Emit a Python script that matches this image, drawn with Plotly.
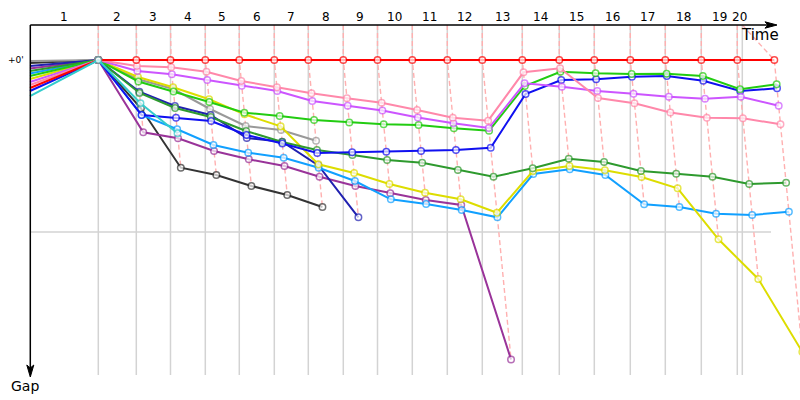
import plotly.graph_objects as go

# ---------------- data ----------------
laps = list(range(1, 21))
lap_labels = [str(i) for i in laps]

# leader cumulative race time (s) at end of each lap
leader_times = [248.2, 386.3, 510.5, 637.0, 760.5, 887.7, 1011.3, 1138.4, 1262.7, 1389.2,
                1516.4, 1643.5, 1788.9, 1923.3, 2050.5, 2181.3, 2308.5, 2439.3, 2570.1, 2704.6]
# reference time marks (vertical grid) for each lap
lap_marks = [248.2, 386.3, 510.5, 637.0, 760.5, 887.7, 1011.3, 1138.4, 1262.7, 1389.2,
             1516.4, 1643.5, 1788.9, 1923.3, 2050.5, 2181.3, 2308.5, 2439.3, 2570.1, 2588.3]

# gap to leader (s) at the end of each lap; first value = start offset
gap_red = [9.77, 0, 0, 0, 0, 0, 0, 0, 0, 0, 0, 0, 0, 0, 0, 0, 0, 0, 0, 0, 0]
gap_pink = [8.72, 0, 2.09, 2.55, 4.08, 7.33, 9.52, 11.62, 13.36, 14.9, 17.44, 20.13, 21.17,
            4.29, 2.9, 13.26, 15.1, 18.31, 20.13, 20.34, 22.43]
gap_violet = [7.67, 0, 3.84, 4.99, 6.98, 8.96, 10.81, 14.3, 15.94, 17.62, 20.06, 22.08, 23.72,
              8.13, 9.31, 10.81, 11.76, 12.8, 13.5, 12.8, 15.94]
gap_green = [5.58, 0, 7.5, 10.99, 14.65, 18.38, 19.53, 20.93, 21.8, 22.43, 22.67, 23.83, 24.66,
             9.07, 4.08, 4.64, 4.88, 4.78, 5.58, 10.22, 8.48]
gap_blue = [10.81, 0, 19.19, 20.13, 21.28, 26.16, 29.13, 32.44, 32.2, 31.99, 31.74, 31.4, 30.59,
            11.86, 6.98, 6.73, 5.83, 5.58, 7.22, 10.81, 9.87]
gap_darkgreen = [3.84, 0, 11.51, 16.74, 19.88, 24.77, 28.6, 31.4, 33.14, 34.88, 35.82, 38.37, 40.71,
                 37.78, 34.43, 35.58, 38.72, 39.66, 40.71, 43.26, 42.8]
gap_yellow = [6.63, 0, 5.93, 9.52, 13.71, 18.94, 23.13, 36.38, 39.42, 43.26, 46.29, 48.59, 53.27,
              38.72, 36.98, 38.48, 40.81, 44.75, 62.54, 76.39, 101.86]
gap_lightblue = [4.71, 0, 19.19, 24.17, 29.65, 32.34, 34.08, 37.57, 42.21, 48.59, 50.23, 52.33, 54.87,
                 39.77, 38.13, 40.12, 50.34, 51.28, 53.62, 54.07, 52.92]
gap_gray = [0.35, 0, 6.73, 10.12, 17.09, 23.02, 24.42, 28.15]
gap_purple = [2.97, 0, 25.22, 27.31, 31.74, 34.64, 36.98, 40.71, 43.95, 46.5, 48.84, 50.58, 104.47]
gap_black = [1.05, 0, 16.85, 37.57, 40.12, 43.95, 47.09, 51.28]
gap_navy = [2.09, 0, 11.06, 16.05, 19.19, 27.21, 28.5, 36.8, 54.87]
gap_teal = [12.56, 0, 15.1, 25.57]

drivers = ["Black", "Gray", "Purple", "Navy", "Light blue", "Yellow", "Dark green",
           "Blue", "Green", "Violet", "Pink", "Red", "Teal"]
driver_gaps = [gap_black, gap_gray, gap_purple, gap_navy, gap_lightblue, gap_yellow,
               gap_darkgreen, gap_blue, gap_green, gap_violet, gap_pink, gap_red, gap_teal]
driver_colors = ["#333333", "#999999", "#993399", "#2020b0", "#11a0ff", "#dddd00",
                 "#2e9a2e", "#1010f0", "#22cc11", "#cc55ff", "#ff88aa", "#ff0000", "#33cccc"]

# ---------------- pixel scale helpers (layout only) ----------------
W, H = 800, 400
X0_PX, Y0_PX = 30.0, 60.0        # time 0 / gap 0 positions
KX, KY = 0.2752, 2.8667          # px per second on each axis
def tx(px):
    return (px - X0_PX) / KX
def gy(py):
    return (py - Y0_PX) / KY

top_g = gy(25)
bottom_g = gy(375)

fig = go.Figure()

# dashed lap lines
dx, dy = [], []
for k in range(len(laps)):
    pts = []
    for g in driver_gaps:
        if len(g) > k + 1:
            pts.append((leader_times[k] + g[k + 1], g[k + 1]))
    pts.sort(key=lambda p: p[1])
    dx += [lap_marks[k]] + [p[0] for p in pts] + [None]
    dy += [top_g] + [p[1] for p in pts] + [None]
fig.add_trace(go.Scatter(x=dx, y=dy, mode="lines", hoverinfo="skip",
                         line=dict(color="#ffb0b0", width=1.4, dash="5px,3px")))

# driver traces
for name, g, c in zip(drivers, driver_gaps, driver_colors):
    n = len(g) - 1
    xs = [0] + [leader_times[i] + g[i + 1] for i in range(n)]
    ys = g
    sizes = [0] + [6.5] * n
    lw = [0] + [1.5] * n
    fig.add_trace(go.Scatter(
        x=xs, y=ys, mode="lines+markers", name=name,
        line=dict(color=c, width=2),
        marker=dict(symbol="circle", size=sizes, color="white",
                    line=dict(color=c, width=lw))))

shapes = []
# vertical grid
for m in lap_marks:
    shapes.append(dict(type="line", xref="x", yref="y", x0=m, x1=m, y0=top_g, y1=bottom_g,
                       line=dict(color="#d3d3d3", width=1.5), layer="below"))
# horizontal grid (+1')
shapes.append(dict(type="line", xref="x", yref="y", x0=0, x1=tx(771), y0=60, y1=60,
                   line=dict(color="#d3d3d3", width=1.5), layer="below"))

def px(x):
    return x / W
def py(y):
    return 1 - y / H

# axes with arrows
shapes.append(dict(type="line", xref="paper", yref="paper", x0=px(30.3), x1=px(770), y0=py(25), y1=py(25),
                   line=dict(color="black", width=1.5)))
shapes.append(dict(type="line", xref="paper", yref="paper", x0=px(30.3), x1=px(30.3), y0=py(25), y1=py(370),
                   line=dict(color="black", width=1.5)))
shapes.append(dict(type="path", xref="paper", yref="paper",
                   path=f"M {px(777)} {py(25)} L {px(765)} {py(21.8)} L {px(768)} {py(25)} L {px(765)} {py(28.2)} Z",
                   fillcolor="black", line=dict(color="black", width=1)))
shapes.append(dict(type="path", xref="paper", yref="paper",
                   path=f"M {px(30.3)} {py(377)} L {px(26.8)} {py(365)} L {px(30.3)} {py(368)} L {px(33.8)} {py(365)} Z",
                   fillcolor="black", line=dict(color="black", width=1)))

annotations = []
bounds = [0] + lap_marks
for i, lab in enumerate(lap_labels):
    annotations.append(dict(x=(bounds[i] + bounds[i + 1]) / 2, y=gy(17), xref="x", yref="y",
                            text=lab, showarrow=False, xanchor="center", yanchor="middle",
                            font=dict(family="DejaVu Sans", size=12, color="black")))
annotations.append(dict(x=px(760), y=py(35), xref="paper", yref="paper", text="Time", showarrow=False,
                        xanchor="center", yanchor="middle",
                        font=dict(family="DejaVu Sans", size=15, color="black")))
annotations.append(dict(x=px(25), y=py(386), xref="paper", yref="paper", text="Gap", showarrow=False,
                        xanchor="center", yanchor="middle",
                        font=dict(family="DejaVu Sans", size=14, color="black")))
annotations.append(dict(x=px(15.5), y=py(60), xref="paper", yref="paper", text="+0'", showarrow=False,
                        xanchor="center", yanchor="middle",
                        font=dict(family="DejaVu Sans", size=9, color="black")))

fig.update_layout(
    width=W, height=H, margin=dict(l=0, r=0, t=0, b=0),
    paper_bgcolor="white", plot_bgcolor="white", showlegend=False,
    xaxis=dict(range=[tx(0), tx(W)], visible=False),
    yaxis=dict(range=[gy(H), gy(0)], visible=False),
    shapes=shapes, annotations=annotations,
)

fig.write_html("out.html")
